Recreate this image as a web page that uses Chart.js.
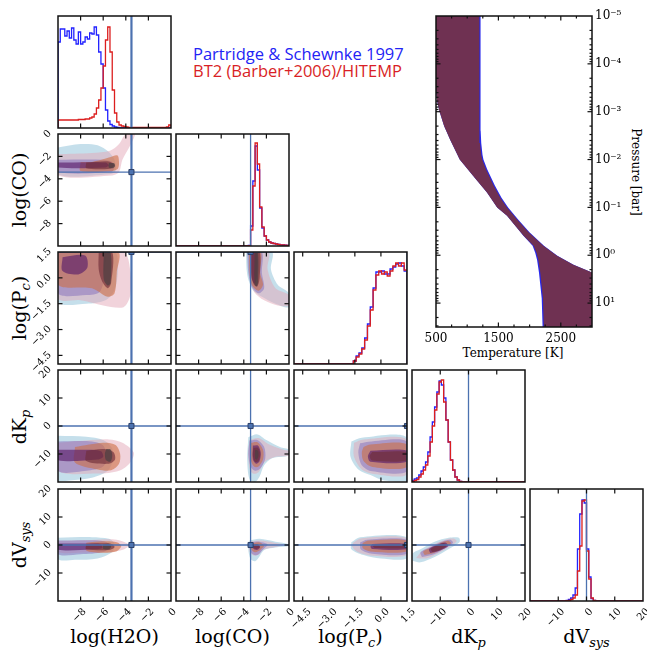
<!DOCTYPE html>
<html>
<head>
<meta charset="utf-8">
<script src="https://cdn.jsdelivr.net/npm/chart.js@4.4.1/dist/chart.umd.min.js"></script>
<style>
  html, body { margin: 0; padding: 0; background: #fff; }
  body { position: relative; width: 647px; height: 652px; overflow: hidden; }
  canvas { position: absolute; }
  .xt { position: absolute; top: 625px; font: 19px 'DejaVu Serif', serif; color: #000; white-space: nowrap; transform: translateX(-50%); }
  .yt { position: absolute; left: 19px; font: 19px 'DejaVu Serif', serif; color: #000; white-space: nowrap; transform: translate(-50%, -50%) rotate(-90deg); }
  sub { font-size: 68%; font-style: italic; vertical-align: -0.28em; line-height: 0; }
  .lg { position: absolute; left: 193px; font: 16.5px 'Open Sans', sans-serif; white-space: nowrap; }
  .pt { position: absolute; font: 12px 'DejaVu Serif', serif; color: #000; white-space: nowrap; }
</style>
</head>
<body>
<div class="lg" style="top:41.5px;color:#2323f5">Partridge &amp; Schewnke 1997</div>
<div class="lg" style="top:59px;color:#d91f26">BT2 (Barber+2006)/HITEMP</div>

<div class="xt" style="left:114.5px">log(H2O)</div>
<div class="xt" style="left:232.5px">log(CO)</div>
<div class="xt" style="left:350.5px">log(P<sub>c</sub>)</div>
<div class="xt" style="left:468.5px">dK<sub>p</sub></div>
<div class="xt" style="left:586.5px">dV<sub>sys</sub></div>

<div class="yt" style="top:190px">log(CO)</div>
<div class="yt" style="top:308px">log(P<sub>c</sub>)</div>
<div class="yt" style="top:427px">dK<sub>p</sub></div>
<div class="yt" style="top:545px">dV<sub>sys</sub></div>

<div class="pt" style="left:513px;top:346px;transform:translateX(-50%)">Temperature [K]</div>
<div class="pt" style="left:636px;top:172px;transform:translate(-50%,-50%) rotate(90deg)">Pressure [bar]</div>

<script>
// ---------- parameters: axis ranges, tick labels, injected values ----------
const paramRange    = [[-10, 0], [-10, 0], [-5, 1.5], [-20, 20], [-20, 20]];
const paramTicks    = [[-8, -6, -4, -2, 0], [-8, -6, -4, -2, 0], [-4.5, -3, -1.5, 0, 1.5], [-10, 0, 10, 20], [-10, 0, 10, 20]];
const paramDecimals = [0, 0, 1, 0, 0];
const truthValues   = [-3.5, -3.4, 1.5, 0, 0];

// ---------- 1D marginal histograms: [first bin edge, bin width] + counts ----------
const h2oBins = [-10, 0.2];
const h2oHistBlue = [86,99,99,92,97,90,100,88,84,96,84,86,91,89,95,94,101,93,76,64,40,18,7,3.5,2,1,0.5,
  0,0,0,0,0,0,0,0,0,0,0,0,0,0,0,0,0,0,0,0,0,0,0];
const h2oHistRed = [8,8,8,8,8,8,8,8,8,8.5,8.5,8.5,9,9,10,11,14,20,28,40,62,88,101,76,38,15,6,3,2,1.5,1,
  0.5,0.5,0.5,0.5,0.5,0.5,0.5,0.5,0.5,0.5,0.5,0.5,0.5,0.5,0.5,0.5,0.5,1,3];

const coBins = [-10, 0.2];
const coHistBlue = [0,0,0,0,0,0,0,0,0,0,0,0,0,0,0,0,0,0,0,0,0,0,0,0,0,0,0,0,0,0,0,0,
  0.5,20,65,100,76,38,18,10,6,4,3,2.5,2,1.5,1.2,1,0.8,0.6];
const coHistRed = [0,0,0,0,0,0,0,0,0,0,0,0,0,0,0,0,0,0,0,0,0,0,0,0,0,0,0,0,0,0,0,0,
  0.3,16,60,103,82,39,19,10,6,4,3,2.5,2,1.5,1.2,1,0.8,0.6];

const pcBins = [-5, 0.1625];
const pcHistBlue = [0,0,0,0,0,0,0,0,0,0,0,0,0,0,0,0,0,0,0,0,0,
  3,8,11,16,26,40,57,76,92,92,93,90,90,95,97,100,101,98,93];
const pcHistRed = [0,0,0,0,0,0,0,0,0,0,0,0,0,0,0,0,0,0,0,0,0,
  3,7,10,15,24,38,54,74,89,93,90,92,88,93,98,101,98,101,94];

const dkpBins = [-20, 0.8];
const dkpHistBlue = [1.5,3,4,7,11,15,20,30,45,60,75,90,101,97,84,62,40,22,12,5,2,0.5,
  0,0,0,0,0,0,0,0,0,0,0,0,0,0,0,0,0,0,0,0,0,0,0,0,0,0,0,0];
const dkpHistRed = [0.5,1.5,2.5,5,8,12,17,26,40,56,72,88,100,102,80,62,40,22,12,5,2,0.5,
  0,0,0,0,0,0,0,0,0,0,0,0,0,0,0,0,0,0,0,0,0,0,0,0,0,0,0,0];

const dvsBins = [-20, 0.8];
const dvsHistBlue = [0,0,0,0,0,0,0,0,0,0,0,0,0,0,0,0,
  0.5,1.5,3,6,13,52,87,101,98,52,24,2.5,0.5,
  0,0,0,0,0,0,0,0,0,0,0,0,0,0,0,0,0,0,0,0,0];
const dvsHistRed = [0,0,0,0,0,0,0,0,0,0,0,0,0,0,0,0,
  0.3,0.5,1.5,3,6,30,55,100,101,50,22,3,0.5,
  0,0,0,0,0,0,0,0,0,0,0,0,0,0,0,0,0,0,0,0,0];

// ---------- 2D credible regions (outer -> inner), [x, y] vertices ----------
const h2oCoBlue = [
  [[-10,-1.2],[-8,-0.9],[-6.5,-1.0],[-5.5,-1.6],[-5.0,-2.3],[-4.9,-3.3],[-5.5,-3.6],[-10,-3.6]],
  [[-10,-2.3],[-6,-2.3],[-5.2,-2.5],[-5.0,-3.0],[-5.3,-3.4],[-10,-3.4]],
  [[-10,-2.55],[-5.8,-2.55],[-5.5,-2.8],[-5.8,-3.0],[-10,-3.0]]
];
const h2oCoRed = [
  [[-10,-1.8],[-7,-1.7],[-5.4,-1.5],[-4.6,-0.9],[-4.0,0],[-3.2,0],[-3.6,-1.0],[-4.3,-2.3],[-4.6,-3.4],[-5.2,-3.7],[-10,-3.7]],
  [[-8,-2.5],[-7,-2.5],[-5.5,-2.1],[-4.75,-1.9],[-4.6,-2.5],[-4.7,-3.1],[-5.2,-3.3],[-8,-3.3]],
  [[-7.5,-2.55],[-5.5,-2.45],[-5.0,-2.8],[-5.4,-3.1],[-7.5,-3.05]],
  [[-5.5,-2.6],[-5.05,-2.6],[-4.95,-2.85],[-5.15,-3.05],[-5.5,-3.0]]
];

const h2oPcBlue = [
  [[-10,1.5],[-5.0,1.5],[-4.7,0.5],[-5.0,-0.7],[-5.8,-1.3],[-7.5,-1.5],[-10,-1.4]],
  [[-10,1.5],[-6.0,1.5],[-5.9,0.2],[-6.3,-0.8],[-7.5,-1.0],[-10,-0.9]],
  [[-9.6,1.2],[-7.6,1.3],[-7.4,0.6],[-8.2,0.2],[-9.6,0.4]]
];
const h2oPcRed = [
  [[-10,1.5],[-4.2,1.5],[-3.6,0.4],[-3.6,-1.0],[-4.2,-1.7],[-6,-1.6],[-8,-1.3],[-10,-1.2]],
  [[-10,1.5],[-4.7,1.5],[-4.8,0.3],[-5.0,-0.9],[-5.6,-1.1],[-7,-0.6],[-10,-0.4]],
  [[-6.4,1.5],[-5.2,1.5],[-5.3,-0.3],[-5.6,-0.6],[-6.1,-0.2],[-6.4,0.5]],
  [[-5.95,1.5],[-5.35,1.5],[-5.35,-0.3],[-5.6,-0.45],[-5.95,-0.1]]
];

const h2oDkBlue = [
  [[-10,-3.5],[-7.5,-3.8],[-6,-5],[-5.2,-8],[-5.1,-12],[-5.6,-16],[-7,-18.5],[-9,-19.5],[-10,-19.5]],
  [[-10,-5.5],[-7,-5.5],[-6,-7],[-5.7,-11],[-6,-14.5],[-7.5,-16],[-10,-16]],
  [[-10,-8.5],[-7.5,-8.5],[-6.2,-9],[-6.0,-11],[-6.5,-12],[-10,-12.2]]
];
const h2oDkRed = [
  [[-10,-6],[-7.5,-5.2],[-5.5,-4.8],[-4.3,-6],[-3.3,-9.5],[-3.6,-13],[-4.6,-16],[-6.5,-17],[-10,-16]],
  [[-8.5,-7.5],[-6,-6],[-4.9,-6.8],[-4.5,-10],[-4.6,-13.5],[-5.3,-15.8],[-6.5,-15.5],[-8.5,-13]],
  [[-7.5,-8.8],[-6,-8.2],[-5.1,-9.3],[-4.95,-12],[-5.5,-13.5],[-7.5,-12.5]],
  [[-5.75,-8.3],[-5.35,-8.4],[-5.2,-10.5],[-5.35,-12.7],[-5.75,-12.2],[-5.85,-10]]
];

const h2oDvBlue = [
  [[-10,2.6],[-7,2.8],[-5.5,2.2],[-5.0,0.5],[-5.2,-2.5],[-6.5,-4.8],[-8.5,-5.3],[-10,-5.0]],
  [[-10,1.6],[-7,1.7],[-5.8,1.2],[-5.4,-0.5],[-6,-2.5],[-8,-3.3],[-10,-3.3]],
  [[-10,0.5],[-7,0.5],[-6.2,0.2],[-6.1,-1.2],[-7,-1.6],[-10,-1.7]]
];
const h2oDvRed = [
  [[-10,1.5],[-7,1.8],[-5,2.0],[-4.2,1.2],[-3.7,0],[-4.2,-1.6],[-5.5,-2.6],[-7.5,-2.7],[-10,-2.5]],
  [[-7.5,0.8],[-6,1.3],[-4.8,1.0],[-4.4,-0.4],[-4.8,-2.2],[-6,-2.8],[-7.5,-2.0]],
  [[-7.5,0.3],[-6,0.6],[-5.2,0.3],[-5.0,-0.8],[-5.5,-1.8],[-7.5,-1.4]],
  [[-6.0,0.3],[-5.45,0.35],[-5.3,-0.6],[-5.5,-1.5],[-6.0,-1.3]]
];

const coPcBlue = [
  [[-3.8,1.5],[-1.5,1.5],[-1.6,0.5],[-1.0,-0.4],[0,-0.9],[0,-1.7],[-1.2,-1.5],[-2.4,-1.1],[-3.2,-0.7],[-3.7,0.2]],
  [[-3.7,1.5],[-2.4,1.5],[-2.4,0.3],[-2.2,-0.6],[-2.7,-0.9],[-3.3,-0.5],[-3.6,0.3]],
  [[-3.35,1.5],[-2.85,1.5],[-2.85,0],[-3.05,-0.35],[-3.3,0]]
];
const coPcRed = [
  [[-3.6,1.5],[-1.8,1.5],[-1.9,0.5],[-1.2,-0.6],[0,-1.0],[0,-1.6],[-1.0,-1.6],[-2.2,-1.3],[-3.1,-0.8],[-3.5,0.0]],
  [[-3.55,1.5],[-2.5,1.5],[-2.55,0.3],[-2.3,-0.4],[-2.7,-0.75],[-3.3,-0.4],[-3.5,0.4]],
  [[-3.35,1.5],[-2.6,1.5],[-2.6,0.0],[-2.8,-0.5],[-3.1,-0.4],[-3.35,0.2]],
  [[-3.05,1.5],[-2.75,1.5],[-2.75,-0.3],[-2.9,-0.5],[-3.05,-0.3]]
];

const coDkBlue = [
  [[-3.6,-4],[-2.8,-3],[-2.0,-5],[-0.8,-7.5],[0,-8.5],[0,-10.5],[-1.5,-11.5],[-2.2,-14],[-2.6,-18],[-3.0,-20],[-3.5,-19],[-3.7,-12]],
  [[-3.5,-5.2],[-2.8,-5],[-2.2,-7.5],[-2.1,-11.5],[-2.5,-15],[-3.0,-16],[-3.4,-14.5],[-3.6,-10]],
  [[-3.2,-7],[-2.75,-7],[-2.5,-9.5],[-2.6,-12.5],[-2.9,-13.5],[-3.2,-12]]
];
const coDkRed = [
  [[-3.5,-5],[-2.7,-4.3],[-1.8,-6.5],[-0.5,-8.5],[0,-9.0],[0,-10.5],[-1.2,-11],[-2.2,-13],[-2.7,-16.5],[-3.2,-17],[-3.5,-15],[-3.6,-10]],
  [[-3.4,-6],[-2.8,-5.8],[-2.3,-8.5],[-2.3,-12],[-2.7,-14.5],[-3.1,-14.5],[-3.4,-12]],
  [[-3.15,-7.8],[-2.75,-7.8],[-2.55,-10],[-2.7,-12.5],[-3.0,-12.8],[-3.2,-10.5]],
  [[-3.0,-8.5],[-2.75,-8.8],[-2.7,-10.5],[-2.85,-12],[-3.0,-11.5]]
];

const coDvBlue = [
  [[-3.5,1.6],[-2.6,2.2],[-1.2,1.2],[0,0.3],[0,-0.4],[-1.2,-0.9],[-2.2,-1.8],[-2.6,-4],[-3.0,-5.8],[-3.4,-5],[-3.6,-1.5]],
  [[-3.4,0.9],[-2.6,1.2],[-1.9,0.2],[-2.3,-1.6],[-2.8,-3.6],[-3.3,-3],[-3.5,-0.8]],
  [[-3.25,0.2],[-2.75,0.3],[-2.55,-0.8],[-2.85,-1.8],[-3.2,-1.2]]
];
const coDvRed = [
  [[-3.4,1.3],[-2.5,1.6],[-1.3,0.8],[-0.4,0.1],[-1.3,-0.8],[-2.3,-1.7],[-2.7,-3.4],[-3.1,-3.8],[-3.5,-2.2]],
  [[-3.3,0.6],[-2.6,0.9],[-2.2,-0.3],[-2.5,-1.6],[-3.0,-2.6],[-3.35,-1.4]],
  [[-3.15,0.1],[-2.75,0.2],[-2.6,-0.8],[-2.9,-1.4],[-3.15,-0.9]]
];

const pcDkBlue = [
  [[-1.7,-5.5],[-1.1,-4.2],[1.5,-4.2],[1.5,-19.5],[0.2,-19.5],[-0.6,-17.5],[-1.3,-15.5],[-1.75,-11]],
  [[-1.2,-6.2],[-0.7,-5.6],[1.5,-5.6],[1.5,-16.2],[-0.5,-16.2],[-1.1,-14],[-1.3,-9.5]],
  [[-0.6,-8.8],[1.5,-8.8],[1.5,-12.8],[-0.6,-12.8],[-0.75,-10.8]]
];
const pcDkRed = [
  [[-1.55,-6],[-1.0,-4.8],[1.5,-4.8],[1.5,-17.2],[-0.3,-17.2],[-1.1,-15.5],[-1.55,-11]],
  [[-1.0,-7.5],[-0.6,-6.6],[1.5,-6.6],[1.5,-14.6],[-0.5,-14.6],[-1.0,-12.5],[-1.1,-9.5]],
  [[-0.5,-9.3],[1.5,-9.3],[1.5,-12.3],[-0.5,-12.3],[-0.65,-10.8]]
];

const pcDvBlue = [
  [[-1.7,1.0],[-1.2,2.8],[1.5,2.8],[1.5,-4.6],[0,-4.8],[-1.0,-3.6],[-1.7,-1.5]],
  [[-1.2,0.9],[-0.8,1.9],[1.5,1.9],[1.5,-3.1],[-0.5,-3.1],[-1.15,-1.6]],
  [[-0.5,0.4],[1.5,0.4],[1.5,-1.5],[-0.5,-1.4],[-0.6,-0.5]]
];
const pcDvRed = [
  [[-1.6,0.8],[-1.1,2.4],[1.5,2.4],[1.5,-3.6],[-0.5,-3.8],[-1.3,-2.6],[-1.65,-0.6]],
  [[-1.05,0.7],[-0.7,1.6],[1.5,1.6],[1.5,-2.3],[-0.6,-2.3],[-1.05,-1.1]],
  [[-0.35,0.15],[1.5,0.15],[1.5,-1.05],[-0.35,-1.05],[-0.45,-0.45]]
];

const dkDvBlue = [
  [[-19.8,-5.6],[-17,-6.2],[-12,-4.3],[-7,-1.4],[-3.2,1.0],[-3.4,2.6],[-7,2.6],[-12,1.2],[-17,-1.5],[-19.8,-3.0]],
  [[-16.5,-4.3],[-12,-3.2],[-8,-1.0],[-5.5,0.8],[-6.5,1.9],[-10,1.0],[-14,-1.0],[-17,-2.6]],
  [[-13.5,-2.9],[-10,-2.0],[-7.2,-0.4],[-8.2,0.9],[-11,0.1],[-14,-1.4]]
];
const dkDvRed = [
  [[-18.5,-4.6],[-15,-4.8],[-11,-3.1],[-6,-0.2],[-4.2,1.3],[-5.2,2.3],[-8,2.0],[-12,0.4],[-16.5,-2.2]],
  [[-15.5,-3.6],[-12,-2.8],[-8.5,-1.0],[-6.2,0.6],[-7.2,1.5],[-10,0.7],[-13,-0.9],[-16,-2.3]],
  [[-12.8,-2.5],[-10,-1.7],[-7.8,-0.4],[-8.8,0.6],[-11,-0.1],[-13.3,-1.4]]
];

// ---------- temperature-pressure envelope ----------
const ptPresLow      = [1e-5, 3.5e-4, 6.3e-4, 1e-3, 2e-3, 3.9e-3, 1e-2, 2.5e-2, 4.9e-2, 1e-1, 1.5e-1, 2.5e-1, 3.9e-1, 6.3e-1, 8.9e-1, 1.26, 2.3, 7.9, 31.6];
const ptTempLow      = [500, 500, 520, 558, 630, 729, 880, 1130, 1317, 1480, 1638, 1780, 1904, 2064, 2110, 2140, 2171, 2214, 2228];
const ptTempLowBlue  = [500, 500, 520, 558, 630, 729, 880, 1130, 1317, 1480, 1638, 1780, 1900, 2048, 2090, 2120, 2150, 2194, 2208];
const ptPresHigh     = [1e-5, 2.5e-3, 4.5e-3, 7.9e-3, 1e-2, 1.6e-2, 2.5e-2, 3.5e-2, 6.3e-2, 1e-1, 1.8e-1, 3.3e-1, 6.3e-1, 1.02, 1.58, 2.3, 31.6];
const ptTempHigh     = [1194, 1196, 1205, 1225, 1240, 1300, 1370, 1423, 1530, 1638, 1800, 1984, 2220, 2439, 2700, 3000, 3000];
const ptTempHighBlue = [1214, 1216, 1225, 1245, 1260, 1320, 1390, 1443, 1550, 1656, 1816, 1998, 2230, 2445, 2705, 3000, 3000];
const ptTempTicks = [500, 1500, 2500];
const ptPresTicks = [1e-5, 1e-4, 1e-3, 1e-2, 1e-1, 1, 10];

// ---------- styling ----------
const blueLevels = ['rgba(140,192,216,0.5)', 'rgba(132,110,188,0.5)', 'rgba(90,30,108,0.65)'];
const redLevels  = ['rgba(228,168,184,0.5)', 'rgba(205,108,66,0.58)', 'rgba(112,46,58,0.65)', 'rgba(76,64,66,0.72)'];
const truthColor = 'rgb(76,114,176)';
const histBlue = '#2222ff';
const histRed = '#dc1e1e';

const M = 40;                               // canvas margin around each plot box
const colX = [58, 176, 294, 412, 530];
const rowY = [16, 134, 252, 370, 489];
const PW = 113, PH = 112;
const xLabelShift = [4, 4, 7, 5, 5];

Chart.defaults.font.family = "'DejaVu Serif', serif";

function makeCanvas(left, top, w, h) {
  const c = document.createElement('canvas');
  c.width = w + 2 * M;
  c.height = h + 2 * M;
  c.style.left = (left - M) + 'px';
  c.style.top = (top - M) + 'px';
  c.style.width = (w + 2 * M) + 'px';
  c.style.height = (h + 2 * M) + 'px';
  document.body.appendChild(c);
  return c;
}

// frame + inward tick marks on all four sides
function frame(t) {
  return {
    id: 'frameTicks',
    afterDatasetsDraw(chart) {
      const { ctx, chartArea: a } = chart;
      const sx = chart.scales.x, sy = chart.scales.y;
      const seg = (x1, y1, x2, y2) => { ctx.beginPath(); ctx.moveTo(x1, y1); ctx.lineTo(x2, y2); ctx.stroke(); };
      ctx.save();
      ctx.strokeStyle = '#111';
      ctx.lineWidth = 1.2;
      [[t.x || [], 4.5], [t.xMinor || [], 2.5]].forEach(([vals, len]) => vals.forEach(v => {
        const p = sx.getPixelForValue(v);
        seg(p, a.bottom, p, a.bottom - len); seg(p, a.top, p, a.top + len);
      }));
      [[t.y || [], 4.5], [t.yMinor || [], 2.5]].forEach(([vals, len]) => vals.forEach(v => {
        const p = sy.getPixelForValue(v);
        seg(a.left, p, a.left + len, p); seg(a.right, p, a.right - len, p);
      }));
      ctx.lineWidth = 1.5;
      ctx.strokeRect(a.left, a.top, a.right - a.left, a.bottom - a.top);
      ctx.restore();
    }
  };
}

const fmtTick = (v, dec) => v.toFixed(dec).replace('-', '\u2212');

function axisCfg(dir, range, ticks, show, dec, shift) {
  return {
    type: 'linear', min: range[0], max: range[1],
    position: dir === 'x' ? 'bottom' : 'left',
    grid: { display: false, drawTicks: false },
    border: { display: false },
    ticks: {
      display: show, autoSkip: false, minRotation: 45, maxRotation: 45,
      padding: dir === 'x' ? 5 : 8, labelOffset: shift,
      font: { family: "'DejaVu Serif', serif", size: 10 }, color: '#000',
      callback: v => fmtTick(v, dec)
    },
    afterBuildTicks: s => { s.ticks = ticks.map(v => ({ value: v })); },
    afterFit: s => { if (dir === 'x') s.height = M; else s.width = M; }
  };
}

function baseOptions(scales, padding) {
  return {
    responsive: false, animation: false, devicePixelRatio: 1, events: [],
    layout: { padding },
    plugins: { legend: { display: false }, tooltip: { enabled: false } },
    elements: { point: { radius: 0 }, line: { tension: 0 } },
    scales
  };
}

function stepPoints(bins, counts) {
  const [lo, w] = bins;
  const pts = [{ x: lo, y: 0 }];
  counts.forEach((c, k) => pts.push({ x: lo + k * w, y: c }));
  const hi = lo + counts.length * w;
  pts.push({ x: hi, y: counts[counts.length - 1] }, { x: hi, y: 0 });
  return pts;
}

function regionSet(poly, color) {
  const d = poly.map(([x, y]) => ({ x, y }));
  d.push({ x: poly[0][0], y: poly[0][1] });
  return { data: d, fill: 'shape', backgroundColor: color, borderColor: 'rgba(0,0,0,0)', borderWidth: 0, tension: 0.3 };
}

function withOrder(sets) {
  sets.forEach((s, i) => { s.order = -i; });
  return sets;
}

const innerTicks = i => paramTicks[i].filter(v => v > paramRange[i][0] && v < paramRange[i][1]);

function cornerChart(row, col, datasets) {
  const diag = row === col;
  const cv = makeCanvas(colX[col], rowY[row], PW, PH);
  const scales = {
    x: axisCfg('x', paramRange[col], paramTicks[col], row === 4, paramDecimals[col], xLabelShift[col]),
    y: diag ? axisCfg('y', [0, 112], [0], false, 0, 0)
            : axisCfg('y', paramRange[row], paramTicks[row], col === 0, paramDecimals[row], -2)
  };
  new Chart(cv, {
    type: 'line',
    data: { datasets: withOrder(datasets) },
    options: baseOptions(scales, { left: 0, top: M, right: M, bottom: 0 }),
    plugins: [frame({ x: innerTicks(col), y: diag ? [] : innerTicks(row) })]
  });
}

// ---------- diagonal: marginal histograms ----------
const histograms = [
  [h2oBins, h2oHistBlue, h2oHistRed],
  [coBins, coHistBlue, coHistRed],
  [pcBins, pcHistBlue, pcHistRed],
  [dkpBins, dkpHistBlue, dkpHistRed],
  [dvsBins, dvsHistBlue, dvsHistRed]
];
histograms.forEach(([bins, blue, red], i) => {
  const t = truthValues[i];
  cornerChart(i, i, [
    { data: stepPoints(bins, blue), stepped: 'before', borderColor: histBlue, borderWidth: 1.3, fill: false },
    { data: stepPoints(bins, red), stepped: 'before', borderColor: histRed, borderWidth: 1.3, fill: false },
    { data: [{ x: t, y: 0 }, { x: t, y: 112 }], borderColor: truthColor, borderWidth: i === 0 ? 2.2 : 1.3, fill: false }
  ]);
});

// ---------- lower triangle: joint posteriors ----------
const jointPanels = [
  [1, 0, h2oCoBlue, h2oCoRed],
  [2, 0, h2oPcBlue, h2oPcRed],
  [3, 0, h2oDkBlue, h2oDkRed],
  [4, 0, h2oDvBlue, h2oDvRed],
  [2, 1, coPcBlue, coPcRed],
  [3, 1, coDkBlue, coDkRed],
  [4, 1, coDvBlue, coDvRed],
  [3, 2, pcDkBlue, pcDkRed],
  [4, 2, pcDvBlue, pcDvRed],
  [4, 3, dkDvBlue, dkDvRed]
];
jointPanels.forEach(([row, col, blue, red]) => {
  const sets = [];
  const levels = Math.max(blue.length, red.length);
  for (let k = 0; k < levels; k++) {
    if (blue[k]) sets.push(regionSet(blue[k], blueLevels[k]));
    if (red[k]) sets.push(regionSet(red[k], redLevels[k]));
  }
  const tx = truthValues[col], ty = truthValues[row];
  const [x0, x1] = paramRange[col], [y0, y1] = paramRange[row];
  sets.push(
    { data: [{ x: tx, y: y0 }, { x: tx, y: y1 }], borderColor: truthColor, borderWidth: col === 0 ? 2.2 : 1.3, fill: false },
    { data: [{ x: x0, y: ty }, { x: x1, y: ty }], borderColor: truthColor, borderWidth: 1.3, fill: false },
    { data: [{ x: tx, y: ty }], showLine: false, pointStyle: 'rect', pointRadius: 3.6,
      pointBackgroundColor: truthColor, pointBorderColor: 'rgb(45,65,105)', pointBorderWidth: 1 }
  );
  cornerChart(row, col, sets);
});

// ---------- temperature-pressure profile ----------
function envelope(pLow, tLow, pHigh, tHigh) {
  const pts = tLow.map((T, i) => ({ x: T, y: pLow[i] }));
  for (let i = tHigh.length - 1; i >= 0; i--) pts.push({ x: tHigh[i], y: pHigh[i] });
  return pts;
}
const supers = { '-': '\u207b', '0': '\u2070', '1': '\u00b9', '2': '\u00b2', '3': '\u00b3', '4': '\u2074', '5': '\u2075' };
const decadeLabel = v => '10' + String(Math.round(Math.log10(v))).split('').map(ch => supers[ch]).join('');

const yMinor = [];
for (let e = -5; e <= 1; e++) for (let m = 2; m <= 9; m++) { const v = m * Math.pow(10, e); if (v < 31.6) yMinor.push(v); }

const ptCanvas = makeCanvas(436, 16, 156, 311);
new Chart(ptCanvas, {
  type: 'line',
  data: {
    datasets: withOrder([
      { data: envelope(ptPresLow, ptTempLowBlue, ptPresHigh, ptTempHighBlue), fill: 'shape',
        backgroundColor: 'rgb(40,40,235)', borderColor: 'rgba(0,0,0,0)', borderWidth: 0 },
      { data: envelope(ptPresLow, ptTempLow, ptPresHigh, ptTempHigh), fill: 'shape',
        backgroundColor: 'rgb(111,49,82)', borderColor: 'rgba(0,0,0,0)', borderWidth: 0 }
    ])
  },
  options: baseOptions({
    x: {
      type: 'linear', min: 500, max: 3000, position: 'bottom',
      grid: { display: false, drawTicks: false }, border: { display: false },
      ticks: { autoSkip: false, minRotation: 0, maxRotation: 0, padding: 5,
        font: { family: "'DejaVu Serif', serif", size: 12 }, color: '#000', callback: v => String(v) },
      afterBuildTicks: s => { s.ticks = ptTempTicks.map(v => ({ value: v })); },
      afterFit: s => { s.height = M; }
    },
    y: {
      type: 'logarithmic', min: 1e-5, max: 31.6, reverse: true, position: 'right',
      grid: { display: false, drawTicks: false }, border: { display: false },
      ticks: { autoSkip: false, padding: 3,
        font: { family: "'DejaVu Serif', serif", size: 12 }, color: '#000', callback: v => decadeLabel(v) },
      afterBuildTicks: s => { s.ticks = ptPresTicks.map(v => ({ value: v })); },
      afterFit: s => { s.width = M; }
    }
  }, { left: M, top: M, right: 0, bottom: 0 }),
  plugins: [frame({
    x: [1500, 2500], xMinor: [750, 1000, 1250, 1750, 2000, 2250, 2750],
    y: ptPresTicks.slice(1), yMinor
  })]
});
</script>
</body>
</html>
